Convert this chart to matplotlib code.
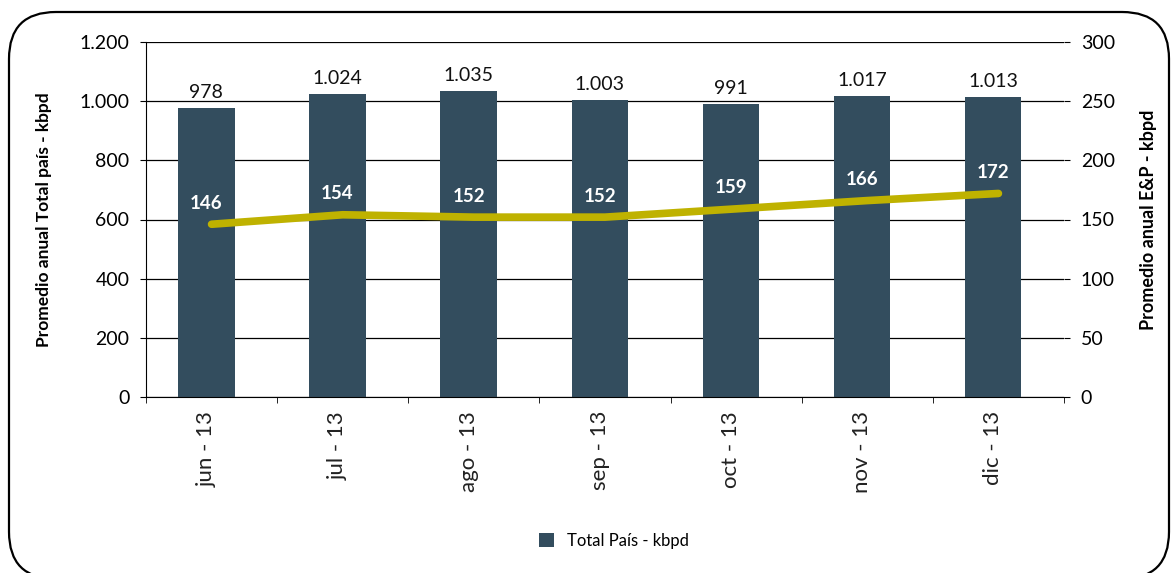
import numpy as np
import matplotlib.pyplot as plt
from matplotlib.patches import FancyBboxPatch

plt.rcParams['font.family'] = ['Lato', 'DejaVu Sans']

# monthly data
meses = ['jun - 13', 'jul - 13', 'ago - 13', 'sep - 13', 'oct - 13', 'nov - 13', 'dic - 13']
total_pais = [978, 1024, 1035, 1003, 991, 1017, 1013]
ep = [146, 154, 152, 152, 159, 166, 172]

bar_color = '#334d5e'
line_color = '#bfb200'

W, H = 1172, 573
fig = plt.figure(figsize=(W / 100, H / 100), dpi=100)
ax = fig.add_axes([146 / W, 1 - 397 / H, 918 / W, 355 / H])
ax2 = ax.twinx()

x = np.arange(len(meses))
xb = x - 0.04

# bars on the left axis
bars = ax.bar(xb, total_pais, width=0.43, color=bar_color, zorder=2, label='Total País - kbpd')
for xi, v in zip(xb, total_pais):
    ax.annotate(f'{v:,}'.replace(',', '.'), (xi, v), xytext=(0, 5), textcoords='offset points',
                ha='center', va='bottom', fontsize=14, color='#111111')

ax.set_ylim(0, 1200)
ax.set_xlim(-0.5, len(meses) - 0.5)
ax.set_yticks(range(0, 1201, 200))
ax.set_yticklabels([f'{v:,}'.replace(',', '.') for v in range(0, 1201, 200)], fontsize=14)
ax.yaxis.grid(True, color='black', linewidth=0.9, zorder=0)
ax.set_axisbelow(True)
ax.set_xticks(xb)
ax.set_xticklabels(meses, rotation=90, fontsize=16, color='#222222')
ax.set_xticks(np.arange(-0.5, len(meses), 1), minor=True)
ax.tick_params(axis='x', which='major', length=0, pad=10)
ax.tick_params(axis='x', which='minor', length=4, direction='out')
ax.tick_params(axis='y', length=4, direction='out', pad=8)
for s in ['top', 'right']:
    ax.spines[s].set_visible(False)
ax.set_ylabel('Promedio anual Total país - kbpd', fontsize=12.5, fontweight='bold', labelpad=20)

# E&P line on the right axis
ax2.plot(x, ep, color=line_color, linewidth=5.5, solid_capstyle='round', zorder=3)
for xi, v in zip(xb, ep):
    ax2.annotate(str(v), (xi, v), xytext=(0, 9), textcoords='offset points',
                 ha='center', va='bottom', fontsize=13.5, fontweight='bold', color='white')
ax2.set_ylim(0, 300)
ax2.set_yticks(range(0, 301, 50))
ax2.tick_params(axis='y', length=4, direction='out', pad=8, labelsize=14)
for s in ['top', 'right', 'left', 'bottom']:
    ax2.spines[s].set_visible(False)
ax2.set_ylabel('Promedio anual E&P - kbpd', fontsize=13, fontweight='bold', labelpad=18)

fig.legend(handles=[bars], loc='center', bbox_to_anchor=(0.524, 1 - 541 / H), frameon=False,
           fontsize=12, handlelength=0.9, handleheight=0.9, handletextpad=0.8)

# rounded frame around the whole chart
frame = FancyBboxPatch((9 / W, -0.01), 1160 / W, 1 - 12 / H + 0.01,
                       boxstyle='round,pad=0,rounding_size=0.04', transform=fig.transFigure,
                       fill=False, edgecolor='black', linewidth=1.6, clip_on=False,
                       mutation_aspect=W / H)
fig.patches.append(frame)

fig.savefig('out.png', dpi=100)
